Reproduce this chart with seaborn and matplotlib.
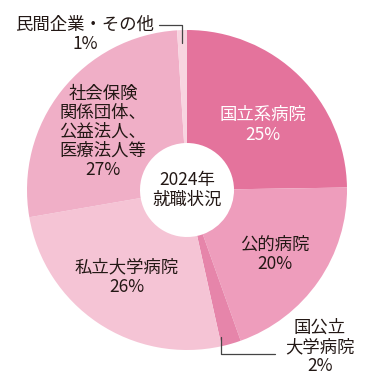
import numpy as np
import seaborn as sns
import matplotlib.pyplot as plt

sns.set_theme(style="white")
plt.rcParams['font.family'] = ['Noto Sans CJK JP', 'DejaVu Sans']

categories = ["国立系病院", "公的病院", "国公立\n大学病院", "私立大学病院",
              "社会保険\n関係団体、\n公益法人、\n医療法人等", "民間企業・その他"]
values = [25, 20, 2, 26, 27, 1]
colors = ["#e4739c", "#ee9dbc", "#e685aa", "#f5c4d5", "#f0afc7", "#f8d4e0"]

W, H = 375, 384
cx, cy, R = 187, 190, 160


def to_data(px, py):
    return (px - cx) / R, (cy - py) / R


fig = plt.figure(figsize=(W / 100, H / 100), dpi=100)
ax = fig.add_axes([(cx - R) / W, (H - cy - R) / H, 2 * R / W, 2 * R / H])
ax.pie(values, colors=colors, startangle=90, counterclock=False,
       radius=1, wedgeprops=dict(width=1 - 47 / R, linewidth=0))
ax.set_xlim(-1, 1)
ax.set_ylim(-1, 1)
ax.set_aspect("equal")
ax.axis("off")

dark = "#231815"
fs = 12.5
label_pos = [(263, 125), (275, 254), (320, 347), (127, 277), (103, 132), (85, 34)]
text_colors = ["white", dark, dark, dark, dark, dark]
for cat, v, (px, py), tc in zip(categories, values, label_pos, text_colors):
    x, y = to_data(px, py)
    ax.text(x, y, f"{cat}\n{v}%", ha="center", va="center", color=tc,
            fontsize=fs, linespacing=1.08)

x, y = to_data(cx, 190)
ax.text(x, y, "2024年\n就職状況", ha="center", va="center", color=dark,
        fontsize=fs, linespacing=1.08)

# leader lines
pts = [to_data(*p) for p in [(159, 25), (182, 25), (182, 43)]]
ax.plot([p[0] for p in pts], [p[1] for p in pts], color="#444444", lw=0.9, clip_on=False)
pts = [to_data(*p) for p in [(221, 337), (221, 354), (275, 354)]]
ax.plot([p[0] for p in pts], [p[1] for p in pts], color="#444444", lw=0.9, clip_on=False)

fig.savefig("out.png", dpi=100)
